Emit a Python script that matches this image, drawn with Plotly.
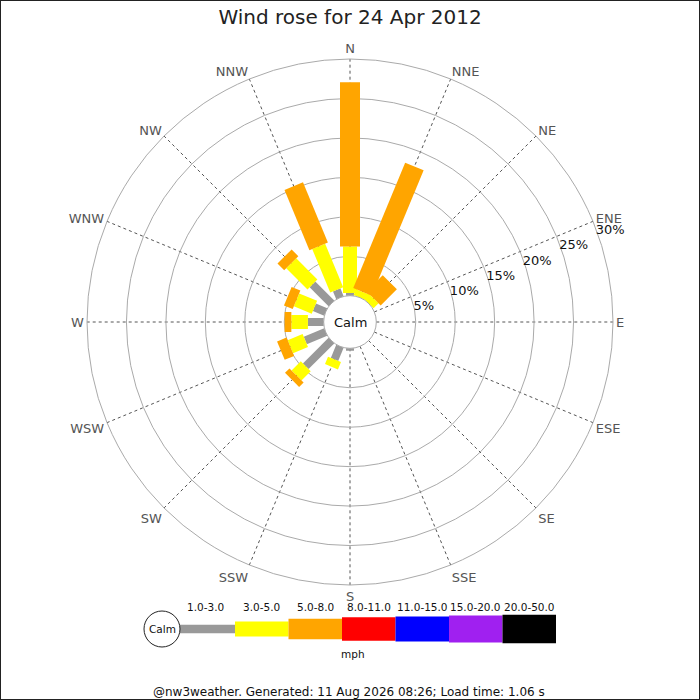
import plotly.graph_objects as go

# --- data (percent of time) ---
directions = ["N", "NNE", "NE", "ENE", "E", "ESE", "SE", "SSE",
              "S", "SSW", "SW", "WSW", "W", "WNW", "NW", "NNW"]
speed_1_3 = [0.35, 0, 0, 0, 0, 0, 0, 0, 0.3, 1.8, 4.6, 2.8, 2.0, 1.55, 3.4, 1.07]
speed_3_5 = [5.9, 0.8, 0.9, 0, 0, 0, 0, 0, 0, 1.0, 1.65, 2.05, 2.1, 2.45, 3.8, 5.98]
speed_5_8 = [20.8, 17.2, 2.9, 0, 0, 0, 0, 0, 0, 0, 0.8, 1.3, 0.85, 1.2, 1.2, 8.25]

speed_bins = ["1.0-3.0", "3.0-5.0", "5.0-8.0", "8.0-11.0", "11.0-15.0", "15.0-20.0", "20.0-50.0"]
bin_colors = ["#999999", "#FFFF00", "#FFA500", "#FF0000", "#0000FF", "#A020F0", "#000000"]
radial_ticks = [0, 5, 10, 15, 20, 25, 30]

W = H = 700
FONT = "DejaVu Sans"


def px(x, y):
    """pixel position -> paper coords (margins are zero)"""
    return x / W, 1 - y / H


def label(fig, x, y, text, size, color="#111"):
    ax, ay = px(x, y)
    fig.add_annotation(x=ax, y=ay, xref="paper", yref="paper", text=text,
                       xanchor="center", yanchor="middle", showarrow=False,
                       font=dict(size=size, color=color))


fig = go.Figure()

# stacked segments drawn as thick radial lines (constant-width bars)
series = [speed_1_3, speed_3_5, speed_5_8]
bar_widths = [8, 14, 20]
base = [0.0] * len(directions)
for vals, color, lw in zip(series, bin_colors, bar_widths):
    r, theta = [], []
    for i, d in enumerate(directions):
        if vals[i] > 0:
            r += [base[i], base[i] + vals[i], None]
            theta += [d, d, None]
        base[i] += vals[i]
    fig.add_trace(go.Scatterpolar(
        r=r, theta=theta, mode="lines", connectgaps=False,
        line=dict(color=color, width=lw), hoverinfo="skip", showlegend=False,
    ))

fig.update_layout(
    width=W, height=H,
    margin=dict(l=0, r=0, t=0, b=0),
    paper_bgcolor="white",
    font=dict(family=FONT, color="#222"),
    title=dict(text="Wind rose for 24 Apr 2012", x=0.5, xanchor="center",
               y=1 - 17 / H, yanchor="middle", font=dict(size=20, color="#222")),
    polar=dict(
        domain=dict(x=[87 / W, 613 / W], y=[1 - 585 / H, 1 - 59 / H]),
        hole=0.1,
        bgcolor="white",
        angularaxis=dict(
            direction="clockwise", rotation=90,
            categoryorder="array", categoryarray=directions,
            showline=True, linecolor="#aaaaaa", linewidth=1,
            gridcolor="#555555", griddash="dot", gridwidth=1,
            ticks="", tickfont=dict(size=13, color="#555555"),
        ),
        radialaxis=dict(
            range=[0, 30], angle=22.5, tickangle=22.5,
            tickvals=radial_ticks,
            ticktext=["" if t == 0 else f"{t}%" for t in radial_ticks],
            showline=False, ticks="",
            gridcolor="#aaaaaa", gridwidth=1,
            tickfont=dict(size=13, color="#111"),
        ),
    ),
)

# centre label
label(fig, 350, 322, "Calm", 13)

# --- speed legend below the rose ---
lx0, ly = 177, 629
seg_w = [58] + [53.5] * (len(speed_bins) - 1)
seg_h = [8.3, 15, 20.3, 23.3, 25, 27, 28.3]
x = lx0
for name, color, w, h in zip(speed_bins, bin_colors, seg_w, seg_h):
    x0, y0 = px(x, ly + h / 2)
    x1, y1 = px(x + w, ly - h / 2)
    fig.add_shape(type="rect", xref="paper", yref="paper",
                  x0=x0, y0=y0, x1=x1, y1=y1, fillcolor=color, line=dict(width=0))
    label(fig, x + w / 2, 607, name, 10.5)
    x += w

# calm circle in the legend
c0x, c0y = px(144, 647)
c1x, c1y = px(180, 611)
fig.add_shape(type="circle", xref="paper", yref="paper",
              x0=c0x, y0=c0y, x1=c1x, y1=c1y,
              fillcolor="white", line=dict(color="#222", width=1))
label(fig, 162, 629, "Calm", 10.5)
label(fig, 353, 654, "mph", 10.5)

# footer
label(fig, 349, 692, "@nw3weather. Generated: 11 Aug 2026 08:26; Load time: 1.06 s", 12)

# frame round the image
fig.add_shape(type="rect", xref="paper", yref="paper", x0=0, y0=0, x1=1, y1=1,
              line=dict(color="#222", width=2), layer="above")

fig.write_html("out.html", config={"displayModeBar": False},
               post_script="document.body.style.margin = '0';")
